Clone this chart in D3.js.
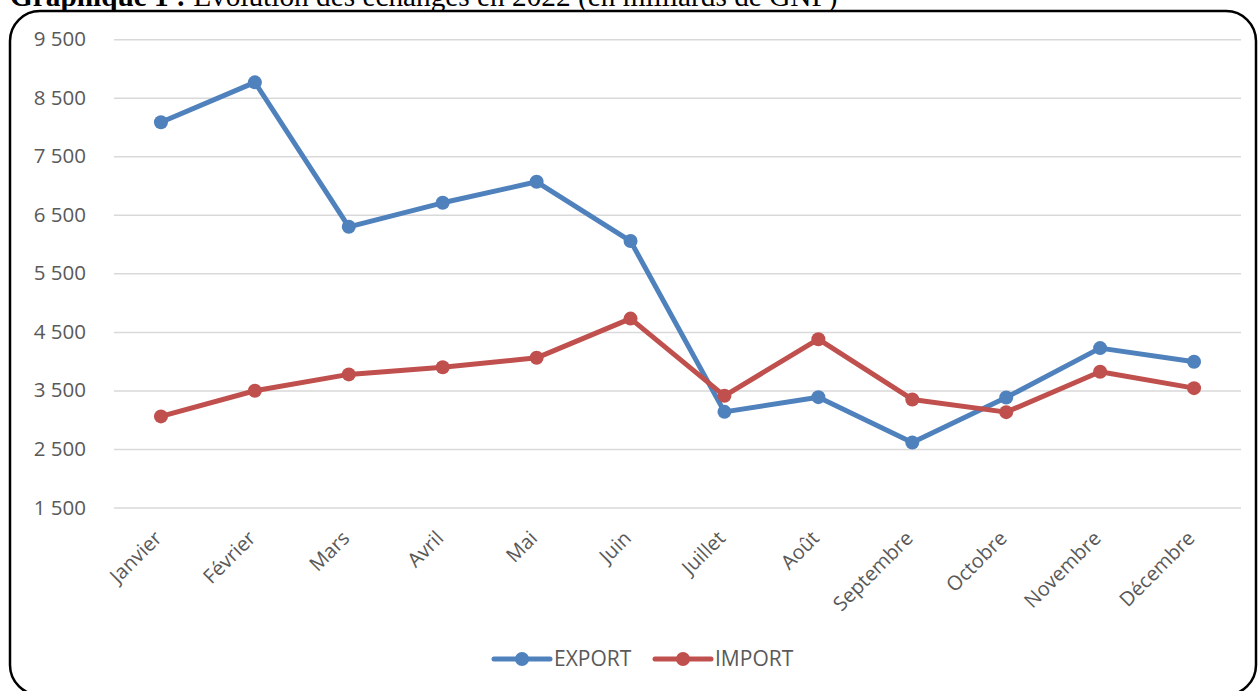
<!DOCTYPE html>
<html>
<head>
<meta charset="utf-8">
<script src="https://cdn.jsdelivr.net/npm/d3@7"></script>
<style>
  html, body { margin: 0; padding: 0; background: #fff; }
  svg { display: block; }
</style>
</head>
<body>
<svg id="chart" width="1258" height="691"></svg>
<script>
const months = ["Janvier","Février","Mars","Avril","Mai","Juin","Juillet","Août","Septembre","Octobre","Novembre","Décembre"];
const exportValues = [8080, 8763, 6295, 6705, 7064, 6052, 3134, 3385, 2609, 3380, 4223, 3990];
const importValues = [3056, 3495, 3774, 3897, 4057, 4727, 3408, 4375, 3346, 3129, 3818, 3539];
const yTicks = [1500, 2500, 3500, 4500, 5500, 6500, 7500, 8500, 9500];
const seriesNames = ["EXPORT", "IMPORT"];
const seriesColors = ["#4F81BD", "#C0504D"];
const titleBold = "Graphique 1 :";
const titleRest = " Évolution des échanges en 2022 (en milliards de GNF)";

const svg = d3.select("#chart");

// Title (partially cut at the top, as in the reference)
const title = svg.append("text")
  .attr("x", 10).attr("y", 6)
  .attr("font-family", "'Liberation Serif', 'Times New Roman', serif")
  .attr("font-size", 29.3)
  .attr("fill", "#000");
title.append("tspan").attr("font-weight", "bold").text(titleBold);
title.append("tspan").text(titleRest);

// Rounded border
svg.append("rect")
  .attr("x", 10).attr("y", 11)
  .attr("width", 1246).attr("height", 684)
  .attr("rx", 30).attr("ry", 30)
  .attr("fill", "none")
  .attr("stroke", "#000")
  .attr("stroke-width", 2.5);

const plot = { left: 114, right: 1241, top: 39.2, bottom: 507.5 };

const x = d3.scaleBand().domain(months).range([plot.left, plot.right]);
const y = d3.scaleLinear().domain([1500, 9500]).range([plot.bottom, plot.top]);

const fmt = v => d3.format(",")(v).replace(/,/g, " ");

// Grid + y axis
const yAxis = d3.axisLeft(y).tickValues(yTicks).tickSize(-(plot.right - plot.left)).tickPadding(28).tickFormat(fmt);
const gy = svg.append("g").attr("transform", `translate(${plot.left},0)`).call(yAxis);
gy.select(".domain").remove();
gy.selectAll(".tick line").attr("stroke", "#D9D9D9").attr("stroke-width", 1.5);
gy.selectAll(".tick text")
  .attr("font-family", "'Open Sans', sans-serif")
  .attr("font-size", 20.5)
  .attr("fill", "#595959");

// X axis labels
const xAxis = d3.axisBottom(x).tickSize(0).tickPadding(0);
const gx = svg.append("g").attr("transform", `translate(0,${plot.bottom})`).call(xAxis);
gx.select(".domain").remove();
gx.selectAll(".tick text")
  .attr("font-family", "'Open Sans', sans-serif")
  .attr("font-size", 20)
  .attr("fill", "#595959")
  .attr("text-anchor", "end")
  .attr("dy", null)
  .attr("transform", "translate(2,32) rotate(-45)");

const series = [exportValues, importValues];
const line = d3.line().x((d, i) => x(months[i]) + x.bandwidth() / 2).y(d => y(d));

series.forEach((vals, s) => {
  const g = svg.append("g");
  g.append("path")
    .datum(vals)
    .attr("d", line)
    .attr("fill", "none")
    .attr("stroke", seriesColors[s])
    .attr("stroke-width", 5)
    .attr("stroke-linejoin", "round");
  g.selectAll("circle").data(vals).enter().append("circle")
    .attr("cx", (d, i) => x(months[i]) + x.bandwidth() / 2)
    .attr("cy", d => y(d))
    .attr("r", 7)
    .attr("fill", seriesColors[s]);
});

// Legend
const legendX = [494, 655];
const legendY = 659;
seriesNames.forEach((name, s) => {
  const g = svg.append("g").attr("transform", `translate(${legendX[s]},${legendY})`);
  g.append("line").attr("x1", 0).attr("x2", 56).attr("y1", 0).attr("y2", 0)
    .attr("stroke", seriesColors[s]).attr("stroke-width", 5).attr("stroke-linecap", "round");
  g.append("circle").attr("cx", 28).attr("cy", 0).attr("r", 7).attr("fill", seriesColors[s]);
  g.append("text").attr("x", 60).attr("y", 0).attr("dy", "0.35em")
    .attr("font-family", "'Open Sans', sans-serif")
    .attr("font-size", 21)
    .attr("fill", "#595959")
    .text(name);
});
</script>
</body>
</html>
